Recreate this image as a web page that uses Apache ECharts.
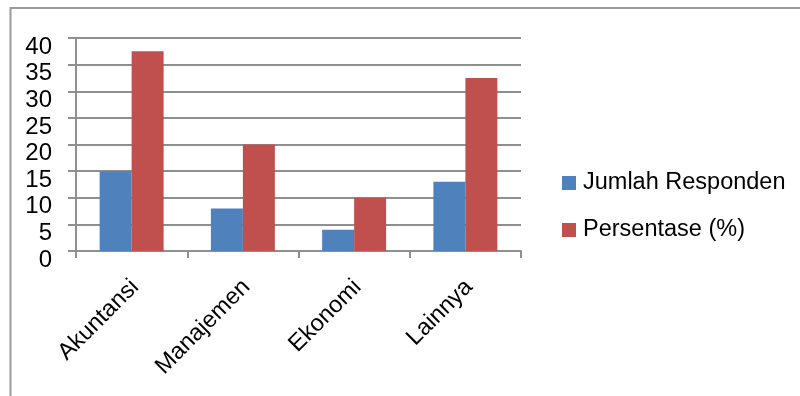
<!DOCTYPE html>
<html>
<head>
<meta charset="utf-8">
<script src="https://cdn.jsdelivr.net/npm/echarts@6/dist/echarts.min.js"></script>
<style>
html,body{margin:0;padding:0;background:#fff;}
#chart{width:800px;height:396px;}
</style>
</head>
<body>
<div id="chart"></div>
<script>
const categories = ['Akuntansi', 'Manajemen', 'Ekonomi', 'Lainnya'];
const jumlahResponden = [15, 8, 4, 13];
const persentase = [37.5, 20, 10, 32.5];
const seriesNames = ['Jumlah Responden', 'Persentase (%)'];
const yTicks = { min: 0, max: 40, interval: 5 };

const FONT = 'Liberation Sans';
const GRID_COLOR = '#8f8f8f';

const chart = echarts.init(document.getElementById('chart'), null, { renderer: 'canvas' });
chart.setOption({
  animation: false,
  backgroundColor: '#fff',
  textStyle: { fontFamily: FONT },
  graphic: [{
    type: 'rect',
    shape: { x: 10.5, y: 8, width: 820, height: 420 },
    style: { fill: 'none', stroke: '#9a9a9a', lineWidth: 2 },
    silent: true
  }],
  grid: { left: 76, right: 279, top: 38, bottom: 145, containLabel: false },
  legend: {
    orient: 'vertical',
    left: 562,
    top: 171,
    padding: 0,
    itemWidth: 14,
    itemHeight: 14,
    itemGap: 23,
    icon: 'rect',
    textStyle: { fontFamily: FONT, fontSize: 23.5, color: '#000', lineHeight: 24, padding: [0, 0, 0, 2] },
    data: seriesNames
  },
  xAxis: {
    type: 'category',
    data: categories,
    axisLine: { show: true, lineStyle: { color: GRID_COLOR, width: 2 } },
    axisTick: { show: true, length: 7, lineStyle: { color: GRID_COLOR, width: 2 } },
    axisLabel: {
      rotate: 45, margin: 29, interval: 0,
      formatter: function (v) { return '{c|' + v + '}'; },
      rich: { c: { fontFamily: FONT, fontSize: 23.5, color: '#000', padding: [10, 0, 0, 0] } }
    }
  },
  yAxis: {
    type: 'value',
    min: yTicks.min,
    max: yTicks.max,
    interval: yTicks.interval,
    axisLine: { show: true, lineStyle: { color: GRID_COLOR, width: 2 } },
    axisTick: { show: true, length: 8, lineStyle: { color: GRID_COLOR, width: 2 } },
    splitLine: { show: true, lineStyle: { color: GRID_COLOR, width: 2 } },
    axisLabel: {
      margin: 24,
      formatter: function (v) { return '{n|' + v + '}'; },
      rich: { n: { fontFamily: FONT, fontSize: 24, color: '#000', padding: [18, 0, 0, 0] } }
    }
  },
  series: [
    {
      name: seriesNames[0], type: 'bar', data: jumlahResponden,
      barGap: '0%', barCategoryGap: '42.5%',
      itemStyle: { color: '#4F81BD' }
    },
    {
      name: seriesNames[1], type: 'bar', data: persentase,
      barGap: '0%', barCategoryGap: '42.5%',
      itemStyle: { color: '#C0504D' }
    }
  ]
});
</script>
</body>
</html>
